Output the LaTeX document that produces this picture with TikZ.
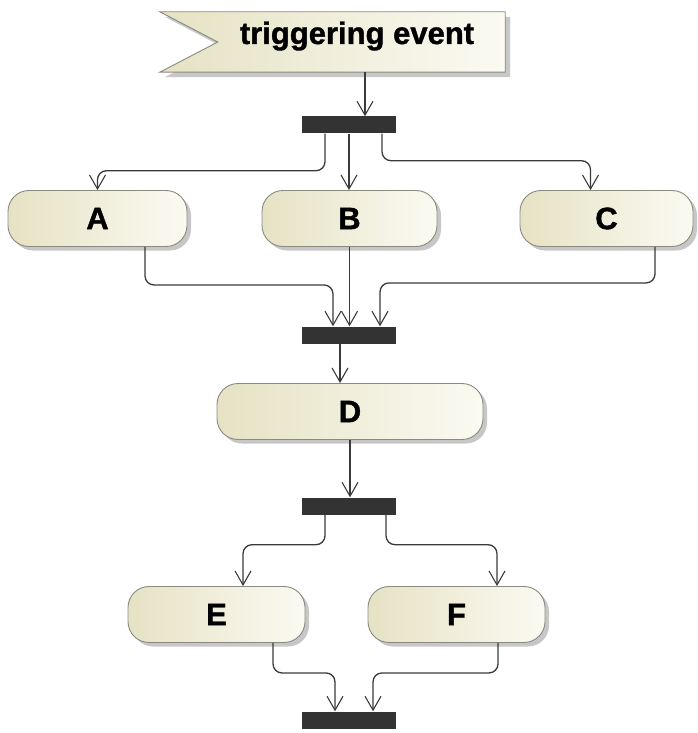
\documentclass[tikz,border=0pt]{standalone}
\usepackage{fontspec}
\setmainfont{Liberation Sans}[BoldFeatures={FakeBold=1.2}]
\usetikzlibrary{arrows.meta,shadows,calc}
\definecolor{linec}{HTML}{3A3A3A}
\definecolor{barc}{HTML}{333333}
\definecolor{boxl}{HTML}{E6E2C4}
\definecolor{boxr}{HTML}{FBFAF2}
\definecolor{boxd}{HTML}{8A8A80}
\begin{document}
\begin{tikzpicture}[x=1pt,y=-1pt,
  act/.style={rounded corners=21pt, draw=boxd, line width=0.9pt,
    left color=boxl, right color=boxr, minimum height=56pt,
    font=\fontsize{31}{34}\selectfont\bfseries,
    drop shadow={shadow xshift=4pt, shadow yshift=-4pt, fill=black, opacity=0.22}},
  bar/.style={fill=barc, draw=none, minimum width=94pt, minimum height=17pt, inner sep=0pt},
  flow/.style={draw=linec, line width=1.3pt, rounded corners=9pt,
    -{Straight Barb[length=14pt,width=16pt,line width=1.1pt]}},
]
\useasboundingbox (0,0) rectangle (697,733);

% triggering event
\node[minimum width=345pt, minimum height=60pt, inner sep=0pt] (trig) at (332.5,42) {};
\fill[black, opacity=0.22] ([shift={(5pt,-5pt)}]trig.north west) -- ([shift={(5pt,-5pt)}]trig.north east)
  -- ([shift={(5pt,-5pt)}]trig.south east) -- ([shift={(5pt,-5pt)}]trig.south west)
  -- ([shift={(63pt,-5pt)}]trig.west) -- cycle;
\draw[draw=boxd, line width=0.9pt, left color=boxl, right color=boxr]
  (trig.north west) -- (trig.north east) -- (trig.south east) -- (trig.south west)
  -- ([xshift=58pt]trig.west) -- cycle;
\node[font=\fontsize{31}{34}\selectfont\bfseries, anchor=base] (trigt) at (357,44) {triggering event};

% bars
\node[bar] (bar1) at (349,125) {};
\node[bar] (bar2) at (349,335) {};
\node[bar] (bar3) at (349,506) {};
\node[bar] (bar4) at (349,720) {};

% actions
\node[act, minimum width=179pt] (A) at (97.5,218.5) {A};
\node[act, minimum width=175pt] (B) at (349.5,218.5) {B};
\node[act, minimum width=173pt] (C) at (606.5,218.5) {C};
\node[act, minimum width=266pt] (D) at (350,411.5) {D};
\node[act, minimum width=177pt] (E) at (216.5,614.5) {E};
\node[act, minimum width=177pt] (F) at (456.5,614.5) {F};

% connectors
\coordinate (trigb) at ([xshift=32.5pt]trig.south);
\draw[flow] (trigb) -- (trigb |- bar1.north);

\coordinate (b1l) at ([xshift=-24pt]bar1.south);
\coordinate (b1r) at ([xshift=33pt]bar1.south);
\draw[flow] (b1l) -- ++(0,37) -| (A.north);
\draw[flow] (bar1.south) -- (bar1.south |- B.north);
\draw[flow] (b1r) -- ++(0,27) -| ([xshift=-16pt]C.north);

\coordinate (Ab) at ([xshift=47.5pt]A.south);
\coordinate (Cb) at ([xshift=48.5pt]C.south);
\draw[flow] (Ab) -- ++(0,38) -| ([xshift=-16pt]bar2.north);
\draw[flow] (B.south) -- (B.south |- bar2.north);
\draw[flow] (Cb) -- ++(0,36) -| ([xshift=31pt]bar2.north);

\coordinate (b2s) at ([xshift=-9pt]bar2.south);
\draw[flow] (b2s) -- (b2s |- D.north);
\draw[flow] (D.south) -- (D.south |- bar3.north);

\coordinate (b3l) at ([xshift=-24pt]bar3.south);
\coordinate (b3r) at ([xshift=37pt]bar3.south);
\draw[flow] (b3l) -- ++(0,30) -| ([xshift=26.5pt]E.north);
\draw[flow] (b3r) -- ++(0,30) -| ([xshift=40.5pt]F.north);

\coordinate (Eb) at ([xshift=56.5pt]E.south);
\coordinate (Fb) at ([xshift=41.5pt]F.south);
\draw[flow] (Eb) -- ++(0,30) -| ([xshift=-14pt]bar4.north);
\draw[flow] (Fb) -- ++(0,30) -| ([xshift=24pt]bar4.north);
\end{tikzpicture}
\end{document}
